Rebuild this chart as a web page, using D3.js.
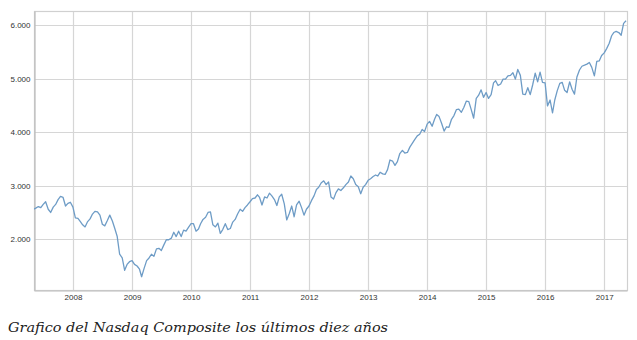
<!DOCTYPE html>
<html>
<head>
<meta charset="utf-8">
<script src="https://cdn.jsdelivr.net/npm/d3@7"></script>
<style>
  html, body { margin: 0; padding: 0; background: #ffffff; }
  svg { display: block; }
</style>
</head>
<body>
<svg id="chart" width="637" height="340"></svg>
<script>
// Nasdaq Composite, semi-monthly readings (1st and 16th of each month), May 2007 – May 2017
const startYear = 2007, startMonth = 4; // May 2007
const values = [
  // 2007 May–Dec
  2560, 2580, 2610, 2590, 2650, 2700, 2560, 2500, 2600, 2650, 2740, 2800, 2780, 2620, 2670, 2690,
  // 2008
  2600, 2400, 2390, 2330, 2270, 2230, 2330, 2380, 2470, 2520, 2510, 2450,
  2280, 2250, 2350, 2450, 2340, 2200, 2050, 1720, 1650, 1420, 1530, 1580,
  // 2009
  1600, 1530, 1500, 1440, 1300, 1450, 1600, 1650, 1720, 1680, 1820, 1830,
  1790, 1890, 1990, 1990, 2020, 2130, 2050, 2150, 2050, 2170, 2150, 2220,
  // 2010
  2290, 2290, 2150, 2190, 2290, 2370, 2410, 2500, 2510, 2270, 2230, 2300,
  2110, 2180, 2290, 2180, 2200, 2320, 2370, 2470, 2560, 2520, 2590, 2640,
  // 2011
  2700, 2760, 2770, 2830, 2780, 2640, 2790, 2770, 2860, 2810, 2740, 2630,
  2790, 2840, 2660, 2360, 2480, 2620, 2420, 2640, 2710, 2590, 2450, 2560,
  // 2012
  2620, 2720, 2810, 2930, 2970, 3050, 3090, 3020, 3070, 2790, 2750, 2870,
  2940, 2910, 2960, 3020, 3070, 3180, 3130, 3020, 2980, 2850, 2970, 3020,
  // 2013
  3100, 3130, 3170, 3200, 3180, 3250, 3220, 3210, 3300, 3480, 3460, 3380,
  3450, 3600, 3660, 3610, 3620, 3720, 3790, 3860, 3930, 3960, 4050, 4010,
  // 2014
  4150, 4200, 4110, 4240, 4330, 4290, 4160, 4020, 4100, 4090, 4240, 4310,
  4420, 4430, 4370, 4460, 4580, 4570, 4420, 4260, 4630, 4690, 4790, 4650,
  // 2015
  4740, 4630, 4700, 4920, 4960, 4870, 4900, 4990, 4990, 5050, 5060, 5110,
  4990, 5170, 5060, 4710, 4700, 4830, 4700, 4880, 5100, 4940, 5120, 4930,
  // 2016
  4920, 4490, 4600, 4360, 4600, 4770, 4910, 4930, 4780, 4740, 4940, 4800,
  4710, 5030, 5160, 5230, 5250, 5270, 5300, 5210, 5050, 5320, 5330, 5430,
  // 2017 Jan–May
  5480, 5560, 5660, 5800, 5860, 5880, 5860, 5810, 6030, 6080
];
const yTicks = [2000, 3000, 4000, 5000, 6000];
const yTickLabels = ["2.000", "3.000", "4.000", "5.000", "6.000"];
const xTickYears = [2008, 2009, 2010, 2011, 2012, 2013, 2014, 2015, 2016, 2017];
const caption = "Grafico del Nasdaq Composite los últimos diez años";

const data = values.map((v, i) => ({
  date: new Date(startYear, startMonth + Math.floor(i / 2), i % 2 ? 16 : 1),
  value: v
}));

const svg = d3.select("#chart");
const mLeft = 34, mRight = 627, mTop = 11, mBottom = 290;

const x = d3.scaleTime()
  .domain([new Date(2007, 4, 5), new Date(2017, 4, 22)])
  .range([mLeft, mRight]);
const y = d3.scaleLinear()
  .domain([1052, 6262])
  .range([mBottom, mTop]);

const gridColor = "#d6d6d6";

// vertical grid
svg.append("g")
  .selectAll("line")
  .data(xTickYears)
  .join("line")
  .attr("x1", d => Math.round(x(new Date(d, 0, 1))) + 0.5)
  .attr("x2", d => Math.round(x(new Date(d, 0, 1))) + 0.5)
  .attr("y1", mTop).attr("y2", mBottom)
  .attr("stroke", gridColor).attr("stroke-width", 1.2);

// horizontal grid
svg.append("g")
  .selectAll("line")
  .data(yTicks)
  .join("line")
  .attr("x1", mLeft).attr("x2", mRight)
  .attr("y1", d => Math.round(y(d)) + 0.5)
  .attr("y2", d => Math.round(y(d)) + 0.5)
  .attr("stroke", gridColor).attr("stroke-width", 1.2);

// frame
svg.append("rect")
  .attr("x", mLeft + 0.5).attr("y", mTop + 0.5)
  .attr("width", mRight - mLeft).attr("height", mBottom - mTop)
  .attr("fill", "none").attr("stroke", "#d0d0d0").attr("stroke-width", 1.2);

// axes
const yAxis = d3.axisLeft(y)
  .tickValues(yTicks)
  .tickFormat((d, i) => yTickLabels[i])
  .tickSize(0).tickPadding(4);
const gy = svg.append("g").attr("transform", `translate(${mLeft + 0.5},0)`).call(yAxis);
gy.select(".domain").attr("stroke", "#bdbdbd").attr("stroke-width", 1.2);
gy.selectAll("text").attr("font-family", "Liberation Sans, Arial, sans-serif")
  .attr("font-size", 8).attr("fill", "#333");

const xAxis = d3.axisBottom(x)
  .tickValues(xTickYears.map(d => new Date(d, 0, 1)))
  .tickFormat(d3.timeFormat("%Y"))
  .tickSize(0).tickPadding(4);
const gx = svg.append("g").attr("transform", `translate(0,${mBottom + 0.5})`).call(xAxis);
gx.select(".domain").attr("stroke", "#bdbdbd").attr("stroke-width", 1.2);
gx.selectAll("text").attr("font-family", "Liberation Sans, Arial, sans-serif")
  .attr("font-size", 8).attr("fill", "#333");

// clip
svg.append("clipPath").attr("id", "clip")
  .append("rect").attr("x", mLeft).attr("y", mTop).attr("width", mRight - mLeft).attr("height", mBottom - mTop);

const line = d3.line()
  .x(d => x(d.date))
  .y(d => y(d.value));

svg.append("path")
  .datum(data)
  .attr("clip-path", "url(#clip)")
  .attr("fill", "none")
  .attr("stroke", "#6e9cc6")
  .attr("stroke-width", 1.3)
  .attr("stroke-linejoin", "round")
  .attr("d", line);

// caption
svg.append("text")
  .attr("x", 8).attr("y", 332)
  .attr("font-family", "DejaVu Serif, serif")
  .attr("font-style", "italic")
  .attr("font-size", 13.5)
  .attr("fill", "#222")
  .attr("textLength", 380)
  .attr("lengthAdjust", "spacingAndGlyphs")
  .text(caption);
</script>
</body>
</html>
